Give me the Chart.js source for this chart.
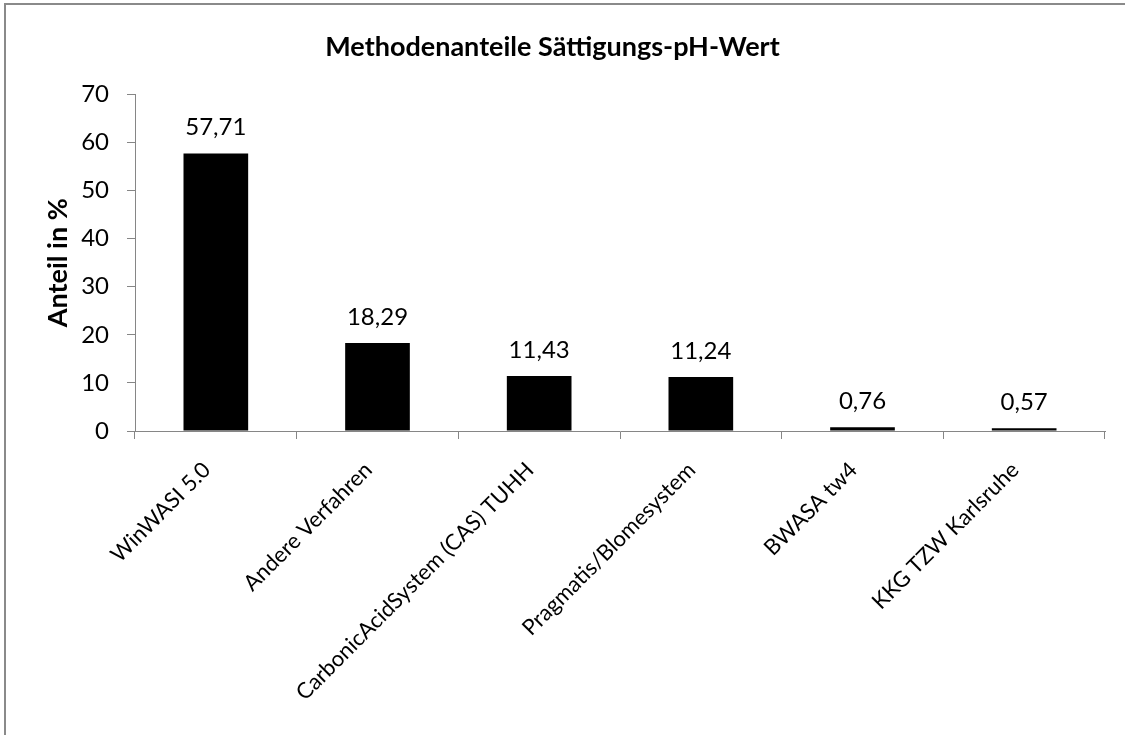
<!DOCTYPE html>
<html>
<head>
<meta charset="utf-8">
<script src="https://cdn.jsdelivr.net/npm/chart.js@4/dist/chart.umd.min.js"></script>
<style>
  html, body { margin: 0; padding: 0; background: #fff; }
  body { width: 1125px; height: 735px; position: relative; overflow: hidden; }
  .frame {
    position: absolute; left: 4px; top: 3px; width: 1200px; height: 800px;
    border-top: 2px solid #8a8a8a; border-left: 2px solid #8a8a8a;
  }
  #wrap { position: absolute; left: 0; top: 0; width: 1125px; height: 735px; }
</style>
</head>
<body>
<div class="frame"></div>
<div id="wrap"><canvas id="chart"></canvas></div>
<script>
const categories = [
  "WinWASI 5.0",
  "Andere Verfahren",
  "CarbonicAcidSystem (CAS) TUHH",
  "Pragmatis/Blomesystem",
  "BWASA tw4",
  "KKG TZW Karlsruhe"
];
const shares = [57.71, 18.29, 11.43, 11.24, 0.76, 0.57];
const yTicks = [0, 10, 20, 30, 40, 50, 60, 70];

const FONT = "Lato, 'Open Sans', sans-serif";
const AXIS_GRAY = "#868686";

// value labels above each bar, German decimal comma
const barLabels = {
  id: "barLabels",
  afterDatasetsDraw(chart) {
    const ctx = chart.ctx;
    const meta = chart.getDatasetMeta(0);
    ctx.save();
    ctx.font = `24px ${FONT}`;
    ctx.fillStyle = "#000";
    ctx.textAlign = "center";
    ctx.textBaseline = "alphabetic";
    meta.data.forEach((bar, i) => {
      const txt = shares[i].toFixed(2).replace(".", ",");
      ctx.fillText(txt, bar.x, bar.y - 18);
    });
    ctx.restore();
  }
};

new Chart(document.getElementById("chart"), {
  type: "bar",
  data: {
    labels: categories,
    datasets: [{
      data: shares,
      backgroundColor: "#000",
      borderWidth: 0,
      categoryPercentage: 1,
      barPercentage: 0.4
    }]
  },
  options: {
    responsive: true,
    maintainAspectRatio: false,
    animation: false,
    layout: { padding: { left: 0, right: 20, top: 0, bottom: 0 } },
    plugins: {
      legend: { display: false },
      tooltip: { enabled: false },
      title: {
        display: true,
        text: "Methodenanteile Sättigungs-pH-Wert",
        color: "#000",
        font: { family: FONT, size: 27, weight: "bold" },
        padding: { top: 31, bottom: 31 }
      }
    },
    scales: {
      x: {
        grid: { drawOnChartArea: false, color: AXIS_GRAY, tickLength: 8, offset: true },
        border: { color: AXIS_GRAY, width: 1 },
        ticks: {
          color: "#000",
          font: { family: FONT, size: 22 },
          minRotation: 45,
          maxRotation: 45,
          autoSkip: false,
          padding: 18,
          labelOffset: -9
        },
        afterFit(scale) { scale.height = 304; }
      },
      y: {
        min: 0,
        max: 70,
        afterBuildTicks(scale) { scale.ticks = yTicks.map(v => ({ value: v })); },
        grid: { drawOnChartArea: false, color: AXIS_GRAY, tickLength: 8 },
        border: { color: AXIS_GRAY, width: 1 },
        ticks: {
          color: "#000",
          font: { family: FONT, size: 24 },
          padding: 18
        },
        title: {
          display: true,
          text: "Anteil in %",
          color: "#000",
          font: { family: FONT, size: 27, weight: "bold" },
          padding: { top: 42, bottom: 0 }
        },
        afterFit(scale) { scale.width = 135; }
      }
    }
  },
  plugins: [barLabels]
});
</script>
</body>
</html>
